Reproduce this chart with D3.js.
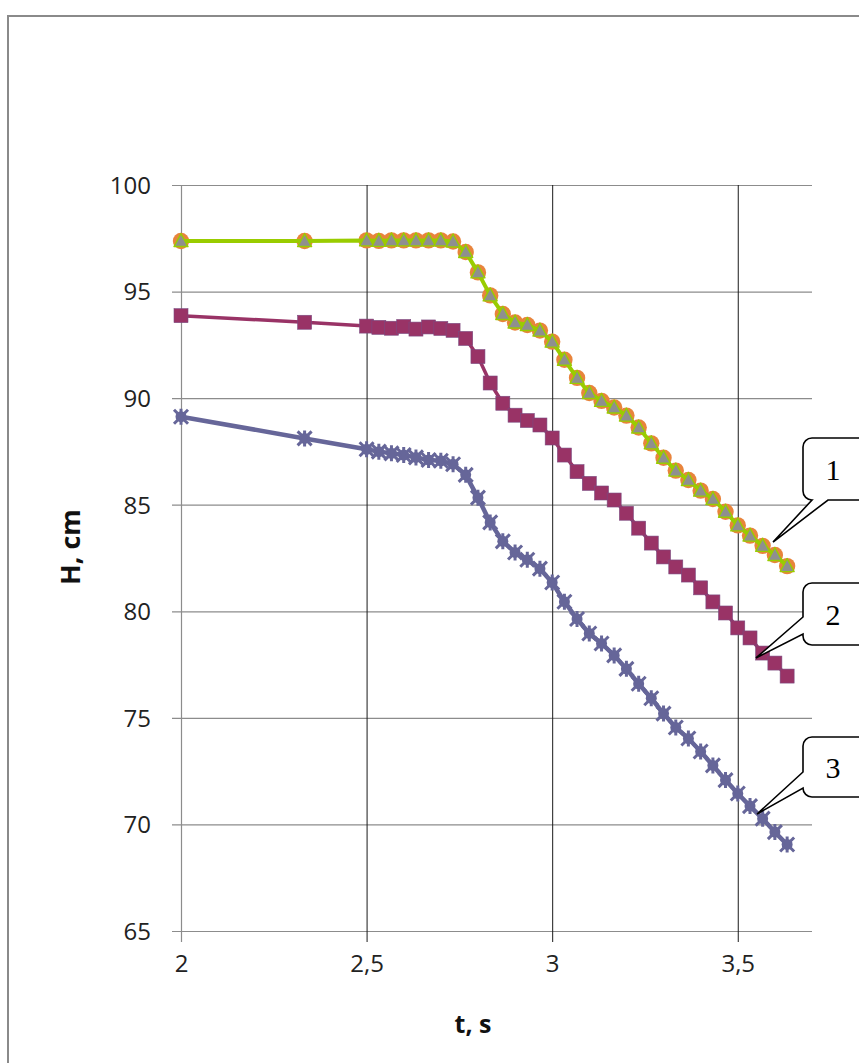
<!DOCTYPE html>
<html>
<head>
<meta charset="utf-8">
<script src="https://cdn.jsdelivr.net/npm/d3@7"></script>
<style>
  html, body { margin: 0; padding: 0; background: #fff; }
  svg { display: block; }
  .tick text { font-family: "Open Sans", sans-serif; }
</style>
</head>
<body>
<svg id="chart" width="859" height="1063"></svg>
<script>
// Time samples, s
const times = [2, 2.333, 2.5, 2.533, 2.567, 2.6, 2.633, 2.667, 2.7, 2.733,
  2.767, 2.8, 2.833, 2.867, 2.9, 2.933, 2.967, 3.0,
  3.033, 3.067, 3.1, 3.133, 3.167, 3.2, 3.233, 3.267, 3.3, 3.333,
  3.367, 3.4, 3.433, 3.467, 3.5, 3.533, 3.567, 3.6, 3.633];

// Level H, cm — curve 1
const level1 = [97.37, 97.37, 97.4, 97.38, 97.4, 97.4, 97.4, 97.4, 97.4, 97.35,
  96.86, 95.9, 94.82, 93.95, 93.55, 93.43, 93.17, 92.65,
  91.8, 90.95, 90.24, 89.87, 89.56, 89.18, 88.62, 87.88, 87.2, 86.6,
  86.16, 85.66, 85.27, 84.67, 84.03, 83.55, 83.07, 82.64, 82.12];

// Level H, cm — curve 2
const level2 = [93.87, 93.56, 93.38, 93.32, 93.28, 93.36, 93.24, 93.34, 93.27, 93.18,
  92.8, 91.95, 90.71, 89.76, 89.2, 88.95, 88.74, 88.13,
  87.33, 86.55, 86.0, 85.55, 85.22, 84.6, 83.9, 83.2, 82.55, 82.08,
  81.7, 81.1, 80.44, 79.92, 79.22, 78.75, 78.04, 77.57, 76.96];

// Level H, cm — curve 3
const level3 = [89.13, 88.11, 87.6, 87.49, 87.41, 87.33, 87.22, 87.1, 87.06, 86.9,
  86.4, 85.33, 84.17, 83.28, 82.76, 82.42, 82.0, 81.35,
  80.45, 79.64, 78.96, 78.49, 77.93, 77.3, 76.6, 75.92, 75.2, 74.55,
  74.03, 73.42, 72.77, 72.08, 71.45, 70.86, 70.27, 69.64, 69.06];

const xTicks = [2, 2.5, 3, 3.5];
const yTicks = [65, 70, 75, 80, 85, 90, 95, 100];

// Callout labels and the points they refer to (t, H)
const calloutText = ["1", "2", "3"];
const calloutTarget = [[3.595, 83.25], [3.549, 77.81], [3.552, 70.49]];

const svg = d3.select("#chart");

// Outer chart frame
svg.append("rect")
  .attr("x", 8).attr("y", 16).attr("width", 900).attr("height", 1100)
  .attr("fill", "#fff").attr("stroke", "#8a8a8a").attr("stroke-width", 2);

const plot = { left: 181, right: 812, top: 185, bottom: 931 };
const x = d3.scaleLinear().domain([2, 3.7]).range([plot.left, plot.right]);
const y = d3.scaleLinear().domain([65, 100]).range([plot.bottom, plot.top]);

const fmt = d => String(d).replace(".", ",");

// Horizontal gridlines + left axis
const yAxis = d3.axisLeft(y).tickValues(yTicks).tickFormat(fmt)
  .tickSize(-(plot.right - plot.left)).tickSizeOuter(0).tickPadding(30);
const gy = svg.append("g").attr("transform", `translate(${plot.left},0)`).call(yAxis);
gy.select(".domain").remove();
gy.selectAll(".tick line").attr("stroke", "#8c8c8c").attr("stroke-width", 1.2)
  .attr("x1", -9);
gy.selectAll(".tick text").attr("font-size", 24).attr("fill", "#222").attr("dy", "0.35em");

// Vertical gridlines + bottom axis
const xAxis = d3.axisBottom(x).tickValues(xTicks).tickFormat(fmt)
  .tickSize(11).tickSizeOuter(0).tickPadding(13);
const gx = svg.append("g").attr("transform", `translate(0,${plot.bottom})`).call(xAxis);
gx.select(".domain").remove();
gx.selectAll(".tick line")
  .attr("y1", -(plot.bottom - plot.top))
  .attr("stroke", d => d === 2 ? "#8c8c8c" : "#1a1a1a")
  .attr("stroke-width", d => d === 2 ? 1.2 : 1);
gx.selectAll(".tick text").attr("font-size", 24).attr("fill", "#222");

// Axis titles
svg.append("text")
  .attr("x", 473).attr("y", 1033)
  .attr("text-anchor", "middle")
  .attr("font-family", "'Open Sans', sans-serif").attr("font-weight", 700)
  .attr("font-size", 25).attr("fill", "#111")
  .text("t, s");

svg.append("text")
  .attr("transform", "translate(80,547) rotate(-90)")
  .attr("text-anchor", "middle")
  .attr("font-family", "'Open Sans', sans-serif").attr("font-weight", 700)
  .attr("font-size", 27).attr("fill", "#111")
  .text("H, cm");

const pts = vals => times.map((t, i) => [t, vals[i]]);
const line = d3.line().x(d => x(d[0])).y(d => y(d[1]));

// Curve 3: purple line with star markers
const s3 = svg.append("g");
s3.append("path").datum(pts(level3)).attr("d", line)
  .attr("fill", "none").attr("stroke", "#666699").attr("stroke-width", 4.5)
  .attr("stroke-linejoin", "round");
const starG = s3.selectAll("g.star").data(pts(level3)).join("g")
  .attr("transform", d => `translate(${x(d[0])},${y(d[1])})`);
starG.append("circle").attr("r", 5.5).attr("fill", "#666699");
starG.append("path")
  .attr("d", "M-7,-7L7,7M-7,7L7,-7M0,-8L0,8")
  .attr("stroke", "#666699").attr("stroke-width", 3).attr("fill", "none");

// Curve 2: maroon line with square markers
const s2 = svg.append("g");
s2.append("path").datum(pts(level2)).attr("d", line)
  .attr("fill", "none").attr("stroke", "#993366").attr("stroke-width", 3.5)
  .attr("stroke-linejoin", "round");
s2.selectAll("rect").data(pts(level2)).join("rect")
  .attr("x", d => x(d[0]) - 7).attr("y", d => y(d[1]) - 7)
  .attr("width", 14).attr("height", 14)
  .attr("fill", "#993366").attr("stroke", "#7a4a80").attr("stroke-width", 0.6);

// Curve 1: orange circles under a green line with grey triangles
const s1 = svg.append("g");
s1.selectAll("circle").data(pts(level1)).join("circle")
  .attr("cx", d => x(d[0])).attr("cy", d => y(d[1]))
  .attr("r", 8.2).attr("fill", "#e8843c");
s1.append("path").datum(pts(level1)).attr("d", line)
  .attr("fill", "none").attr("stroke", "#99cc00").attr("stroke-width", 4)
  .attr("stroke-linejoin", "round");
s1.selectAll("path.tri").data(pts(level1)).join("path")
  .attr("class", "tri")
  .attr("transform", d => `translate(${x(d[0])},${y(d[1])})`)
  .attr("d", "M0,-7.5L7,5.5L-7,5.5Z")
  .attr("fill", "#8f8f8f").attr("stroke", "#99cc00").attr("stroke-width", 1.4)
  .attr("stroke-linejoin", "round");

// Rounded callout boxes with a pointer toward each curve
const r = 9;
const boxLeft = 803, boxRight = 900;
const boxes = [
  { top: 438, bottom: 500, side: "bottom", base: [812, 828] },
  { top: 583, bottom: 645, side: "left", base: [617, 634] },
  { top: 737, bottom: 797, side: "left", base: [772, 788] }
];

function calloutPath(b, tip) {
  const p = d3.path();
  p.moveTo(boxLeft + r, b.top);
  p.lineTo(boxRight, b.top);
  p.lineTo(boxRight, b.bottom);
  if (b.side === "bottom") {
    p.lineTo(b.base[1], b.bottom);
    p.lineTo(tip[0], tip[1]);
    p.lineTo(b.base[0], b.bottom);
    p.lineTo(boxLeft + r, b.bottom);
    p.arcTo(boxLeft, b.bottom, boxLeft, b.bottom - r, r);
    p.lineTo(boxLeft, b.top + r);
  } else {
    p.lineTo(boxLeft + r, b.bottom);
    p.arcTo(boxLeft, b.bottom, boxLeft, b.bottom - r, r);
    p.lineTo(boxLeft, b.base[1]);
    p.lineTo(tip[0], tip[1]);
    p.lineTo(boxLeft, b.base[0]);
    p.lineTo(boxLeft, b.top + r);
  }
  p.arcTo(boxLeft, b.top, boxLeft + r, b.top, r);
  p.closePath();
  return p.toString();
}

const callouts = svg.append("g");
boxes.forEach((b, i) => {
  const tip = [x(calloutTarget[i][0]), y(calloutTarget[i][1])];
  callouts.append("path")
    .attr("d", calloutPath(b, tip))
    .attr("fill", "#fff").attr("stroke", "#000").attr("stroke-width", 1.6)
    .attr("stroke-linejoin", "miter");
  callouts.append("text")
    .attr("x", 833).attr("y", (b.top + b.bottom) / 2 + 11)
    .attr("text-anchor", "middle")
    .attr("font-family", "'Liberation Serif', 'Times New Roman', serif")
    .attr("font-size", 30).attr("fill", "#000")
    .text(calloutText[i]);
});
</script>
</body>
</html>
